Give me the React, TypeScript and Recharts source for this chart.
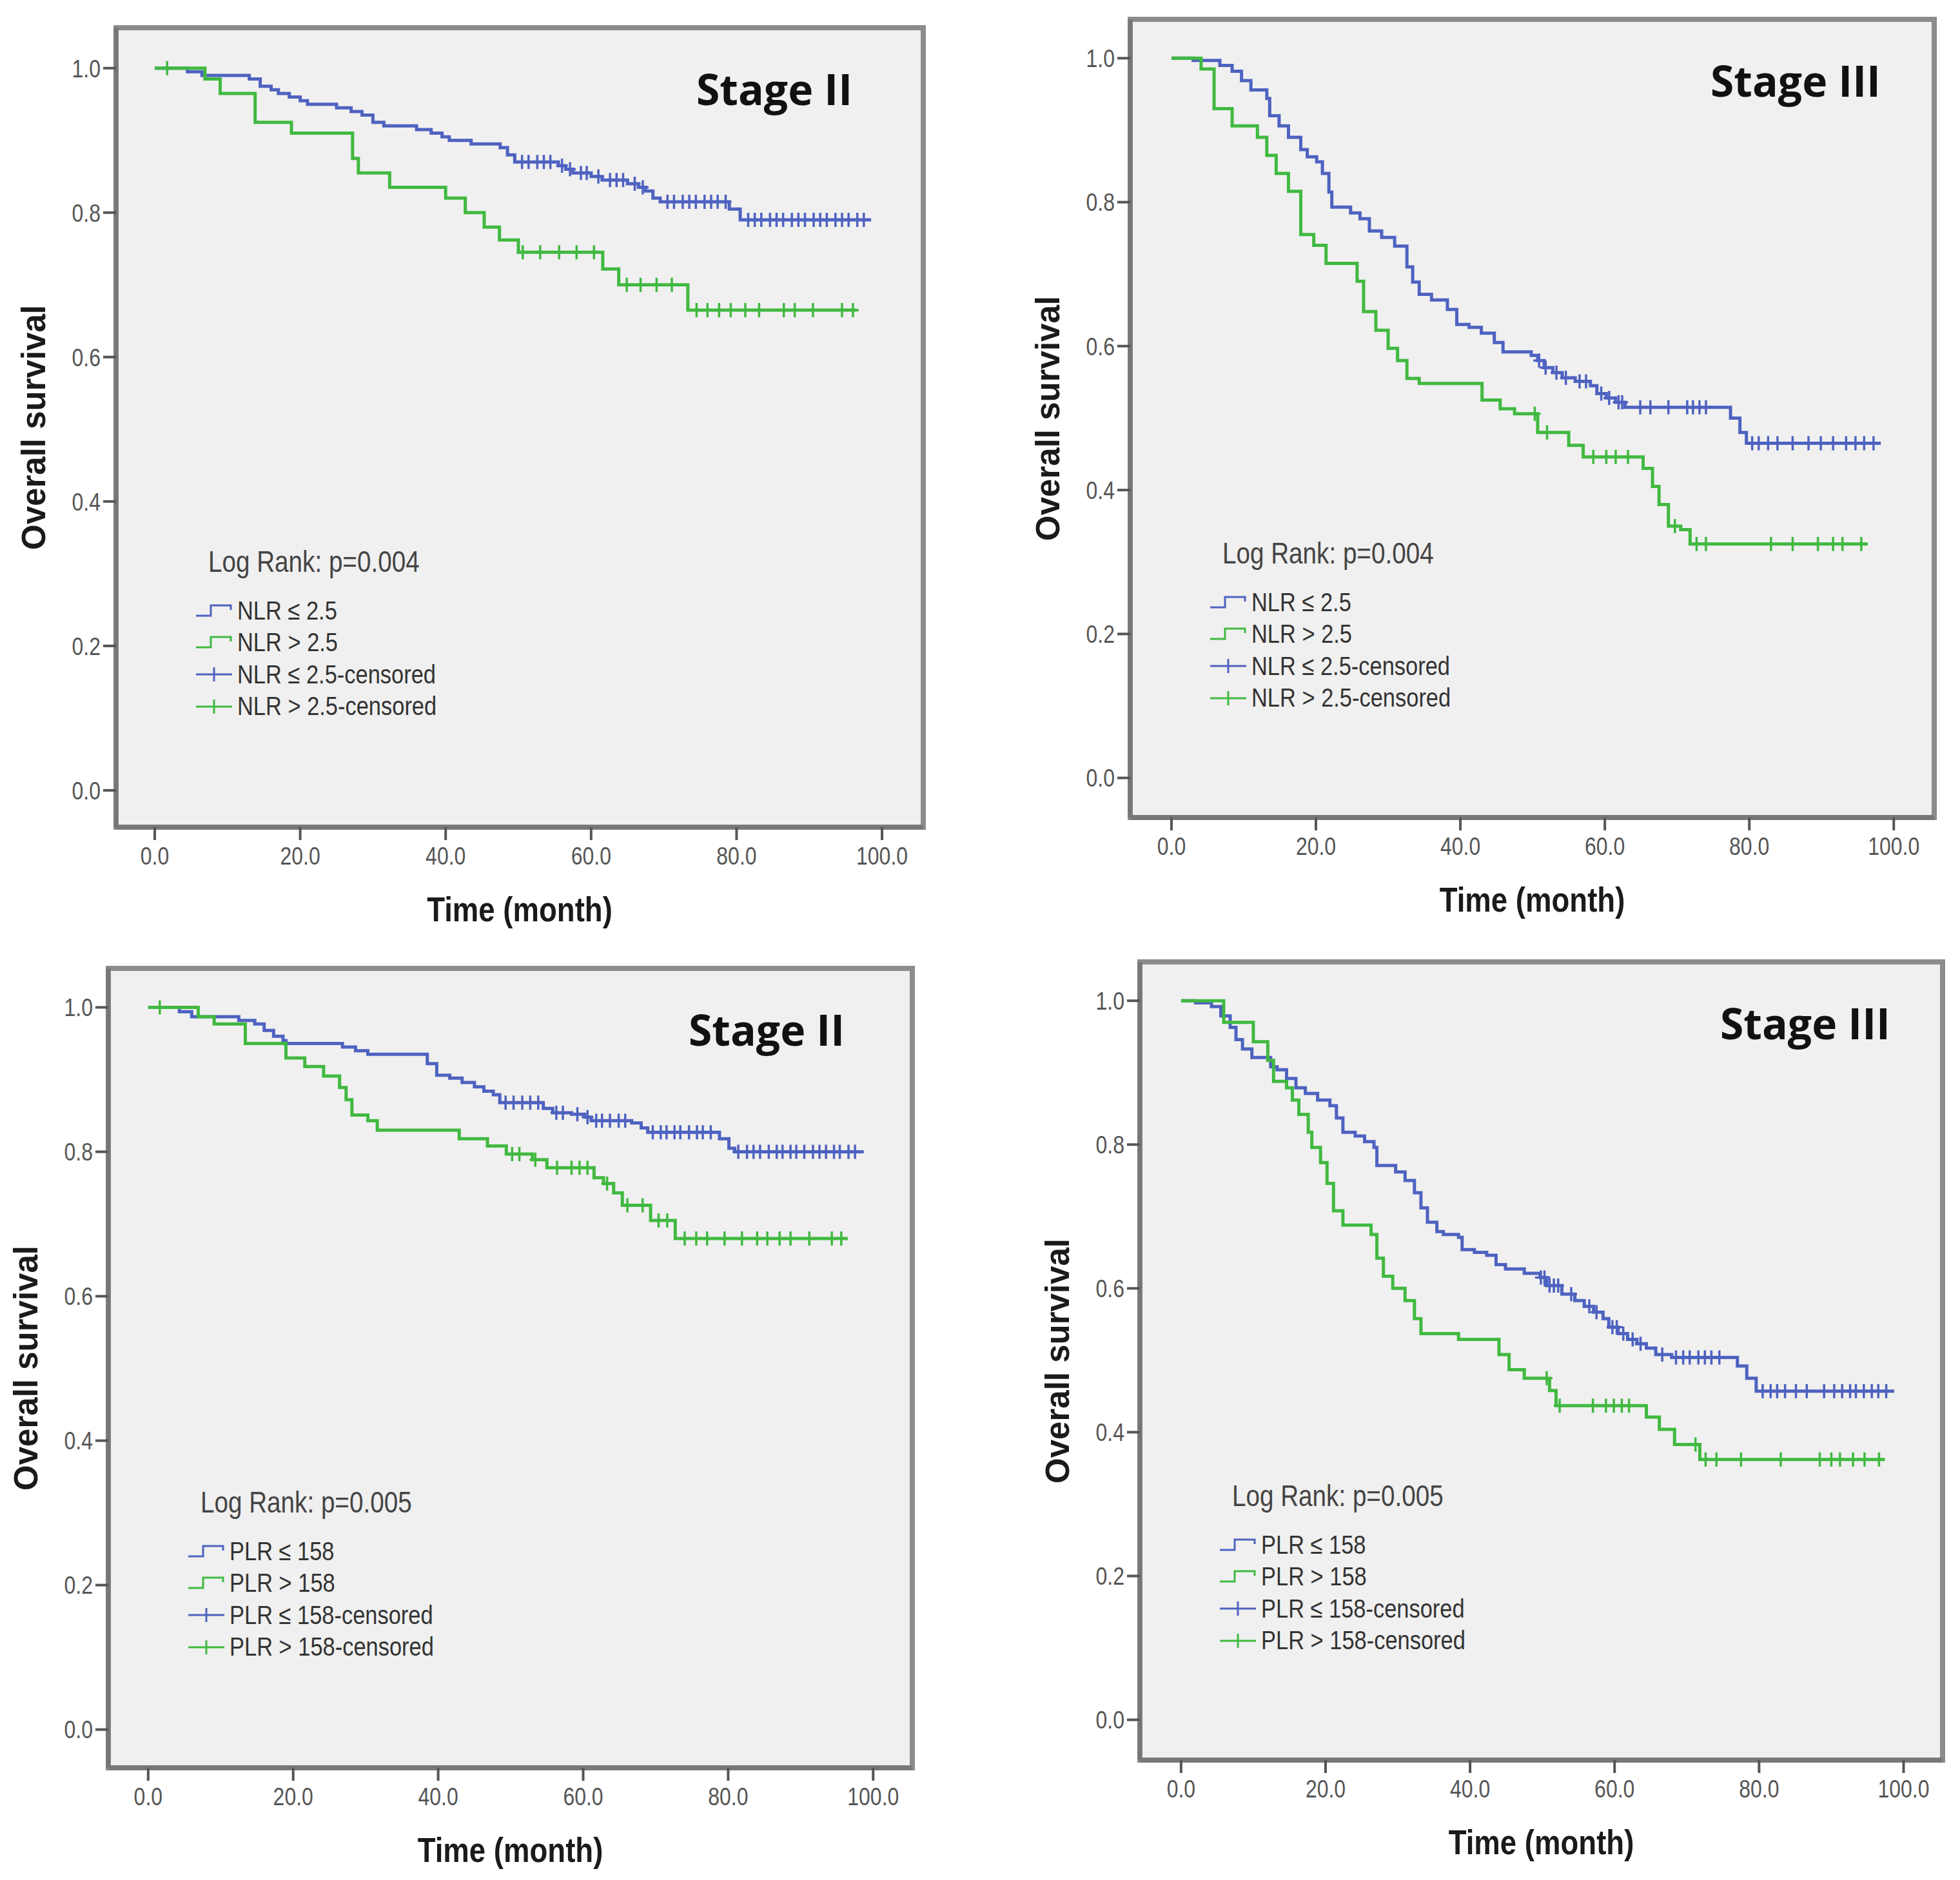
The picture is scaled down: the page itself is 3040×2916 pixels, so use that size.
import React from "react"
import {
  ComposedChart,
  Line,
  Scatter,
  XAxis,
  YAxis,
  ReferenceArea,
  Legend,
} from "recharts"

type Pt = [number, number]

const X_TICKS = [0, 20, 40, 60, 80, 100]
const Y_TICKS = [0, 0.2, 0.4, 0.6, 0.8, 1]

const NLR_LABELS = ["NLR ≤ 2.5", "NLR > 2.5", "NLR ≤ 2.5-censored", "NLR > 2.5-censored"]
const PLR_LABELS = ["PLR ≤ 158", "PLR > 158", "PLR ≤ 158-censored", "PLR > 158-censored"]

// Stage II, NLR — [month, survival]
const nlrS2Low: Pt[] = [
  [0, 1], [4.5, 0.995], [6.5, 0.99], [13, 0.985], [14.5, 0.975], [16, 0.97], [17, 0.965],
  [18.5, 0.96], [20, 0.955], [21, 0.95], [25, 0.945], [27, 0.94], [28.5, 0.935], [30, 0.925],
  [31.5, 0.92], [36, 0.915], [38, 0.91], [39.5, 0.905], [40.5, 0.9], [43.5, 0.895], [47.5, 0.89],
  [48.5, 0.88], [49.5, 0.87], [55.5, 0.865], [56.5, 0.86], [57.5, 0.855], [60, 0.85], [61.5, 0.845],
  [65, 0.84], [66.5, 0.835], [67.5, 0.83], [68.5, 0.82], [69.5, 0.815], [79, 0.805], [80.5, 0.79],
  [98.5, 0.79],
]
const nlrS2LowCensored = [
  50.5, 51.4, 52.6, 53.5, 54.4, 56, 57.1, 58.6, 59.4, 61, 62.6, 63.5, 64.4, 66, 67.1, 70.5, 71.4,
  72.6, 73.5, 74.4, 75.6, 76.5, 77.4, 78.5, 81.6, 82.5, 83.4, 84.6, 85.5, 86.4, 87.6, 88.5, 89.4,
  90.6, 91.5, 92.4, 93.6, 94.5, 95.4, 96.6, 97.5,
]
const nlrS2High: Pt[] = [
  [0, 1], [6.9, 0.985], [9, 0.965], [13.8, 0.925], [18.8, 0.91], [27.2, 0.875], [28, 0.855],
  [32.3, 0.835], [40, 0.82], [42.7, 0.8], [45.3, 0.78], [47.4, 0.762], [50, 0.745], [61.6, 0.722],
  [63.8, 0.7], [73.3, 0.665], [96.5, 0.665],
]
const nlrS2HighCensored = [
  1.7, 50.6, 53, 55.6, 58, 60.4, 64.9, 66.8, 69, 71.1, 74.5, 76, 77.6, 79.2, 81.2, 83.1, 86.5, 88,
  90.5, 94.5, 96,
]

// Stage III, NLR
const nlrS3Low: Pt[] = [
  [0, 1], [3, 0.997], [6.7, 0.99], [8.4, 0.982], [9.7, 0.969], [11, 0.956], [13.2, 0.944],
  [13.6, 0.92], [14.9, 0.906], [16.2, 0.89], [17.9, 0.873], [18.8, 0.863], [20.1, 0.856],
  [20.9, 0.84], [21.8, 0.814], [22.2, 0.793], [24.8, 0.785], [26.1, 0.777], [27.4, 0.76],
  [29.1, 0.751], [30.9, 0.739], [32.6, 0.71], [33.4, 0.689], [34.3, 0.672], [36, 0.664],
  [38.2, 0.651], [39.5, 0.63], [41.2, 0.626], [42.9, 0.618], [44.7, 0.605], [45.9, 0.592],
  [49.8, 0.587], [50.7, 0.58], [51.6, 0.57], [52.8, 0.563], [54.1, 0.556], [55.9, 0.551],
  [58, 0.545], [58.9, 0.534], [60.2, 0.528], [61.5, 0.522], [62.8, 0.515], [77.4, 0.5],
  [78.7, 0.48], [79.6, 0.465], [98.2, 0.465],
]
const nlrS3LowCensored = [
  50.9, 51.8, 53.3, 54.6, 56.5, 57.4, 59.5, 60.6, 61.9, 62.4, 64.9, 66.3, 68.8, 71.4, 72.2, 73.1,
  74, 80.4, 81.3, 82.6, 83.9, 86, 88.2, 89.9, 91.6, 93.4, 94.7, 95.9, 97.2,
]
const nlrS3High: Pt[] = [
  [0, 1], [4.1, 0.985], [5.9, 0.93], [8.4, 0.906], [11.9, 0.89], [13.2, 0.865], [14.5, 0.84],
  [16.2, 0.815], [17.9, 0.755], [19.7, 0.74], [21.4, 0.715], [25.7, 0.69], [26.6, 0.648],
  [28.3, 0.622], [30, 0.597], [31.3, 0.58], [32.6, 0.555], [34.3, 0.548], [43, 0.525],
  [45.5, 0.513], [47.5, 0.506], [50.7, 0.48], [55, 0.462], [57, 0.446], [65.3, 0.43],
  [66.6, 0.405], [67.5, 0.38], [68.8, 0.35], [70.5, 0.345], [71.8, 0.325], [96.4, 0.325],
]
const nlrS3HighCensored = [
  50.3, 52, 58.4, 60.2, 61.5, 63.2, 69.7, 72.7, 74, 83, 86, 89.5, 91.6, 92.9, 95.5,
]

// Stage II, PLR
const plrS2Low: Pt[] = [
  [0, 1], [4.3, 0.994], [6, 0.987], [12.5, 0.982], [14.7, 0.977], [16, 0.968], [17.3, 0.96],
  [18.6, 0.954], [19, 0.95], [26.8, 0.945], [28.6, 0.94], [30.3, 0.935], [38.5, 0.922],
  [39.8, 0.906], [41.6, 0.902], [43.3, 0.896], [45, 0.89], [46.3, 0.884], [47.6, 0.879],
  [48.5, 0.868], [54.5, 0.86], [55.8, 0.854], [58.4, 0.852], [60.2, 0.848], [61.1, 0.843],
  [66.7, 0.84], [68, 0.833], [68.9, 0.827], [78.8, 0.818], [80.1, 0.805], [80.9, 0.8], [98.7, 0.8],
]
const plrS2LowCensored = [
  49.3, 50.4, 51.6, 52.7, 53.8, 56.3, 57.2, 59.2, 60.6, 61.8, 62.6, 63.7, 64.9, 65.8, 69.6, 70.7,
  71.5, 72.6, 73.4, 74.6, 75.7, 76.5, 77.6, 81.4, 82.6, 83.5, 84.4, 85.6, 86.7, 87.5, 88.6, 89.4,
  90.5, 91.7, 92.6, 93.5, 94.6, 95.4, 96.6, 97.5,
]
const plrS2High: Pt[] = [
  [0, 1], [6.9, 0.987], [9.1, 0.977], [13.4, 0.95], [19, 0.93], [21.6, 0.918], [24.2, 0.905],
  [26.4, 0.889], [27.3, 0.872], [28.1, 0.851], [30.3, 0.843], [31.6, 0.83], [42.9, 0.818],
  [46.8, 0.808], [49.4, 0.797], [53, 0.789], [55, 0.778], [61.5, 0.764], [62.8, 0.756],
  [64.2, 0.743], [65.4, 0.726], [69.3, 0.705], [72.7, 0.68], [96.5, 0.68],
]
const plrS2HighCensored = [
  1.6, 50.2, 51.2, 53.4, 56.4, 58.4, 59.5, 60.6, 63.3, 66.1, 68.2, 70.4, 71.6, 74, 75.6, 77.1,
  79.5, 81.9, 84, 85.4, 87.1, 88.6, 91.2, 94.3, 95.6,
]

// Stage III, PLR
const plrS3Low: Pt[] = [
  [0, 1], [2, 0.997], [4.2, 0.992], [5.5, 0.979], [6.8, 0.963], [7.6, 0.946], [8.5, 0.933],
  [9.8, 0.921], [12.4, 0.908], [13.3, 0.904], [14.6, 0.892], [15.9, 0.879], [17.2, 0.871],
  [18.9, 0.862], [20.6, 0.854], [21.5, 0.837], [22.4, 0.817], [24.1, 0.812], [25.4, 0.804],
  [26.7, 0.796], [27.1, 0.771], [29.7, 0.762], [31, 0.75], [32.3, 0.733], [33.2, 0.712],
  [34.1, 0.692], [35.4, 0.679], [36.3, 0.675], [38.4, 0.671], [38.9, 0.654], [40.6, 0.65],
  [42.3, 0.646], [43.6, 0.633], [44.9, 0.627], [47.5, 0.621], [49.7, 0.615], [50.6, 0.604],
  [52.7, 0.592], [54.5, 0.583], [55.8, 0.575], [57.1, 0.567], [58.4, 0.558], [59.2, 0.546],
  [60.5, 0.537], [61.8, 0.529], [63.1, 0.523], [64.4, 0.517], [65.7, 0.508], [67.9, 0.504],
  [77, 0.492], [78.3, 0.475], [79.6, 0.457], [98.7, 0.457],
]
const plrS3LowCensored = [
  49.8, 50.3, 51, 51.6, 52.2, 54, 56.5, 57.5, 59.7, 60.3, 61.2, 62.5, 63.6, 66.6, 68.5, 69.5, 70.4,
  71.6, 72.5, 73.4, 74.5, 80.5, 81.6, 82.5, 83.6, 85.1, 86.6, 89, 90.4, 91.5, 92.6, 93.4, 94.5,
  95.6, 96.5, 97.6,
]
const plrS3High: Pt[] = [
  [0, 1], [5.9, 0.97], [10, 0.943], [12, 0.917], [12.8, 0.888], [14.6, 0.879], [15.4, 0.862],
  [16.3, 0.842], [17.6, 0.817], [18.1, 0.796], [19.3, 0.775], [20.2, 0.746], [21.1, 0.708],
  [22.4, 0.688], [26.3, 0.675], [27.1, 0.642], [28, 0.617], [29.3, 0.6], [31, 0.583],
  [32.3, 0.558], [33.2, 0.537], [38.4, 0.529], [44, 0.508], [45.4, 0.487], [47.5, 0.475],
  [51, 0.458], [51.9, 0.437], [64.4, 0.421], [66.2, 0.404], [68.3, 0.383], [71.8, 0.362],
  [97.4, 0.362],
]
const plrS3HighCensored = [
  50.6, 52.4, 57, 58.8, 59.9, 61, 62, 71.2, 72.6, 74.1, 77.5, 83, 88.4, 90, 91.2, 93, 94.6, 96.6,
]

const BLUE = "#4e62c0"
const GREEN = "#40b940"
const SANS = '"Liberation Sans", Arial, sans-serif'

const PAD_L = 160
const PAD_T = 20
const PAD_R = 30
const PAD_B = 190

// value of a KM step curve at time t
function stepValue(steps: Pt[], t: number) {
  let s = steps[0][1]
  for (const [x, y] of steps) {
    if (x <= t) s = y
    else break
  }
  return s
}
const toRows = (steps: Pt[]) => steps.map(([t, s]) => ({ t, s }))
const censorRows = (steps: Pt[], times: number[]) =>
  times.map((t) => ({ t, s: stepValue(steps, t) }))

const panels = [
  {
    key: "nlr2", title: "Stage II", pValue: "Log Rank: p=0.004", labels: NLR_LABELS,
    low: nlrS2Low, lowCens: nlrS2LowCensored, high: nlrS2High, highCens: nlrS2HighCensored,
    frame: { L: 180, T: 43, R: 1432, B: 1283 },
    xDomain: [-5.32, 105.67], yDomain: [-0.051, 1.056],
  },
  {
    key: "nlr3", title: "Stage III", pValue: "Log Rank: p=0.004", labels: NLR_LABELS,
    low: nlrS3Low, lowCens: nlrS3LowCensored, high: nlrS3High, highCens: nlrS3HighCensored,
    frame: { L: 1753, T: 30, R: 3000, B: 1268 },
    xDomain: [-5.71, 105.6], yDomain: [-0.055, 1.054],
  },
  {
    key: "plr2", title: "Stage II", pValue: "Log Rank: p=0.005", labels: PLR_LABELS,
    low: plrS2Low, lowCens: plrS2LowCensored, high: plrS2High, highCens: plrS2HighCensored,
    frame: { L: 168, T: 1502, R: 1415, B: 2742 },
    xDomain: [-5.5, 105.4], yDomain: [-0.053, 1.054],
  },
  {
    key: "plr3", title: "Stage III", pValue: "Log Rank: p=0.005", labels: PLR_LABELS,
    low: plrS3Low, lowCens: plrS3LowCensored, high: plrS3High, highCens: plrS3HighCensored,
    frame: { L: 1768, T: 1492, R: 3013, B: 2730 },
    xDomain: [-5.7, 105.4], yDomain: [-0.056, 1.054],
  },
]

const makeCross = (color: string) => (props: any) => {
  const { cx, cy } = props
  if (cx == null || cy == null) return <g />
  return (
    <path
      d={`M${cx - 9},${cy}H${cx + 9}M${cx},${cy - 11}V${cy + 11}`}
      stroke={color}
      strokeWidth={3.5}
      fill="none"
    />
  )
}

// the original figure is squeezed sideways, so horizontal text gets a narrow scale
const XTick = (props: any) => {
  const { x, y, payload } = props
  return (
    <text
      transform={`translate(${x},${y}) scale(0.82,1)`}
      textAnchor="middle"
      dy="0.71em"
      fill="#555"
      fontSize={39}
      fontFamily={SANS}
    >
      {Number(payload.value).toFixed(1)}
    </text>
  )
}

const YTick = (props: any) => {
  const { x, y, payload } = props
  return (
    <text
      transform={`translate(${x},${y}) scale(0.82,1)`}
      textAnchor="end"
      dy="0.355em"
      fill="#555"
      fontSize={39}
      fontFamily={SANS}
    >
      {Number(payload.value).toFixed(1)}
    </text>
  )
}

const XTitle = (props: any) => {
  const vb = props.viewBox || { x: 0, y: 0, width: 0 }
  const cx = vb.x + vb.width / 2
  const cy = vb.y + 127
  return (
    <text
      transform={`translate(${cx},${cy}) scale(0.86,1)`}
      textAnchor="middle"
      dominantBaseline="central"
      fontFamily={SANS}
      fontWeight={700}
      fontSize={53}
      fill="#1a1a1a"
    >
      Time (month)
    </text>
  )
}

const YTitle = (props: any) => {
  const vb = props.viewBox || { x: 0, y: 0, height: 0 }
  const cx = vb.x + 32
  const cy = vb.y + vb.height / 2
  return (
    <text
      x={cx}
      y={cy}
      transform={`rotate(-90 ${cx} ${cy})`}
      textAnchor="middle"
      dominantBaseline="central"
      fontFamily={SANS}
      fontWeight={700}
      fontSize={51}
      fill="#1a1a1a"
    >
      Overall survival
    </text>
  )
}

function LegendIcon({ color, censored }: { color: string; censored: boolean }) {
  return (
    <svg width={62} height={30} style={{ display: "block", flex: "none" }}>
      {censored ? (
        <path d="M2,15H58M30,4V26" stroke={color} strokeWidth={3} fill="none" />
      ) : (
        <path d="M2,22H25V6H56V13" stroke={color} strokeWidth={3} fill="none" />
      )}
    </svg>
  )
}

const narrowSpan = {
  display: "inline-block",
  transform: "scaleX(0.84)",
  transformOrigin: "left center",
  whiteSpace: "nowrap" as const,
}

function LegendBlock({ p }: { p: (typeof panels)[number] }) {
  const colors = [BLUE, GREEN, BLUE, GREEN]
  return (
    <div style={{ fontFamily: SANS, color: "#333" }}>
      <div style={{ height: 50, lineHeight: "50px", fontSize: 46, marginLeft: 21, color: "#444" }}>
        <span style={narrowSpan}>{p.pValue}</span>
      </div>
      <div style={{ marginTop: 27 }}>
        {p.labels.map((label, i) => (
          <div key={label} style={{ height: 49.3, display: "flex", alignItems: "center", whiteSpace: "nowrap" }}>
            <LegendIcon color={colors[i]} censored={i >= 2} />
            <span style={{ ...narrowSpan, fontSize: 41, marginLeft: 4 }}>{label}</span>
          </div>
        ))}
      </div>
    </div>
  )
}

function KmPanel({ p }: { p: (typeof panels)[number] }) {
  const { frame } = p
  const w = frame.R - frame.L + PAD_L + PAD_R
  const h = frame.B - frame.T + PAD_T + PAD_B

  return (
    <div style={{ position: "absolute", left: frame.L - PAD_L, top: frame.T - PAD_T, width: w, height: h }}>
      <ComposedChart width={w} height={h} margin={{ top: PAD_T, right: PAD_R, bottom: 0, left: 0 }}>
        <ReferenceArea
          x1={p.xDomain[0]}
          x2={p.xDomain[1]}
          y1={p.yDomain[0]}
          y2={p.yDomain[1]}
          fill="#f0f0f0"
          fillOpacity={1}
          stroke="#8c8c8c"
          strokeWidth={8}
        />
        <XAxis
          type="number"
          dataKey="t"
          domain={p.xDomain}
          allowDataOverflow
          ticks={X_TICKS}
          interval={0}
          height={PAD_B}
          tickSize={20}
          tickMargin={10}
          tick={XTick}
          tickLine={{ stroke: "#555", strokeWidth: 4 }}
          axisLine={{ stroke: "#777", strokeWidth: 7 }}
          label={XTitle}
        />
        <YAxis
          type="number"
          domain={p.yDomain}
          allowDataOverflow
          ticks={Y_TICKS}
          interval={0}
          width={PAD_L}
          tickSize={20}
          tickMargin={4}
          tick={YTick}
          tickLine={{ stroke: "#555", strokeWidth: 4 }}
          axisLine={{ stroke: "#777", strokeWidth: 7 }}
          label={YTitle}
        />
        <Line
          data={toRows(p.low)}
          dataKey="s"
          type="stepAfter"
          stroke={BLUE}
          strokeWidth={5}
          dot={false}
          activeDot={false}
          legendType="none"
          isAnimationActive={false}
        />
        <Line
          data={toRows(p.high)}
          dataKey="s"
          type="stepAfter"
          stroke={GREEN}
          strokeWidth={5}
          dot={false}
          activeDot={false}
          legendType="none"
          isAnimationActive={false}
        />
        <Scatter
          data={censorRows(p.low, p.lowCens)}
          dataKey="s"
          shape={makeCross(BLUE)}
          legendType="none"
          isAnimationActive={false}
        />
        <Scatter
          data={censorRows(p.high, p.highCens)}
          dataKey="s"
          shape={makeCross(GREEN)}
          legendType="none"
          isAnimationActive={false}
        />
        <Legend
          layout="vertical"
          align="center"
          verticalAlign="middle"
          wrapperStyle={{ left: PAD_L + 122, top: PAD_T + 803, width: 700 }}
          content={() => <LegendBlock p={p} />}
        />
      </ComposedChart>
      <div
        style={{
          position: "absolute",
          left: PAD_L + 900,
          top: PAD_T + 96 - 35,
          fontFamily: '"Open Sans", "Noto Sans", sans-serif',
          fontWeight: 700,
          fontSize: 66,
          lineHeight: "66px",
          whiteSpace: "nowrap",
          color: "#111",
        }}
      >
        {p.title}
      </div>
    </div>
  )
}

export default function App() {
  return (
    <div style={{ position: "absolute", left: 0, top: 0, width: 3040, height: 2916, background: "#fff" }}>
      {panels.map((p) => (
        <KmPanel key={p.key} p={p} />
      ))}
    </div>
  )
}
